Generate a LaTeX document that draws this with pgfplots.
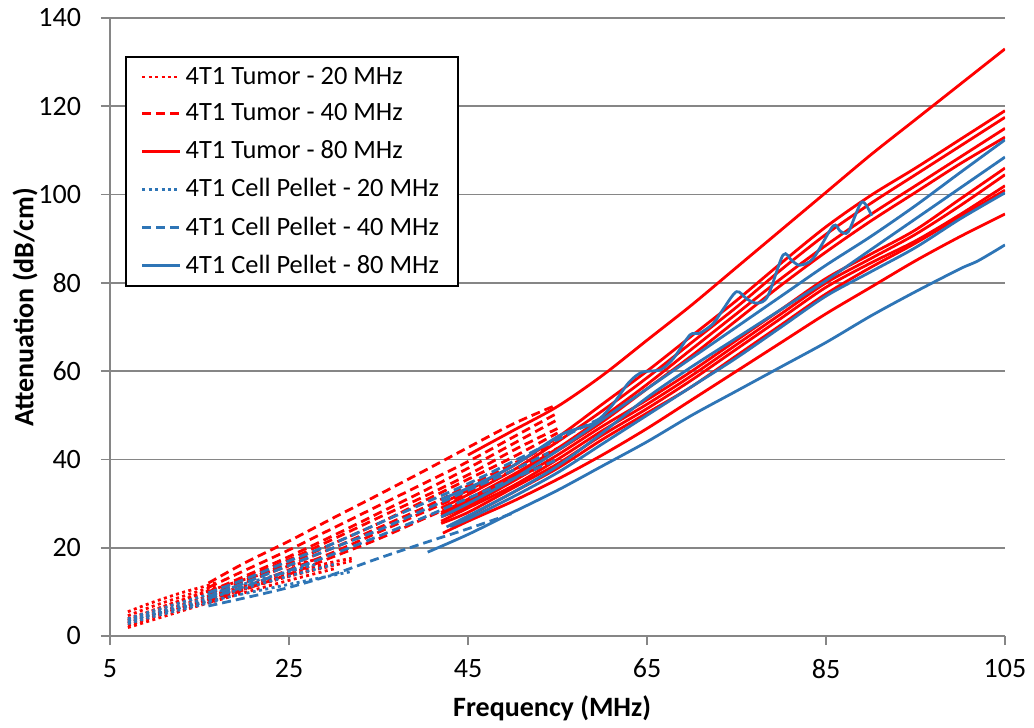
\documentclass[border=0pt]{standalone}
\usepackage{fontspec}
\setmainfont{Carlito}
\usepackage{pgfplots}
\pgfplotsset{compat=1.18}
\definecolor{tumor}{RGB}{255,0,0}
\definecolor{pellet}{RGB}{46,117,182}
\definecolor{gridgray}{RGB}{134,134,134}
\pgfplotsset{
  tdot/.style={tumor, line width=1.4pt, dash pattern=on 1.5pt off 1.7pt},
  tdash/.style={tumor, line width=1.4pt, dash pattern=on 4.5pt off 2.5pt},
  tsol/.style={tumor, line width=1.4pt, solid},
  pdot/.style={pellet, line width=1.4pt, dash pattern=on 1.5pt off 1.7pt},
  pdash/.style={pellet, line width=1.4pt, dash pattern=on 4.5pt off 2.5pt},
  psol/.style={pellet, line width=1.4pt, solid},
}
\begin{document}
\begin{tikzpicture}
\begin{axis}[
  scale only axis, width=447.5pt, height=309pt,
  xmin=5, xmax=105, ymin=0, ymax=140,
  xtick={5,25,45,65,85,105}, ytick={0,20,...,140},
  axis x line*=bottom, axis y line*=left,
  axis line style={gridgray, line width=0.8pt, -},
  tick style={gridgray, line width=0.8pt},
  tick align=outside, major tick length=4.5pt,
  ymajorgrids, grid style={gridgray, line width=0.8pt},
  tick label style={font=\fontsize{14}{16}\selectfont},
  yticklabel style={xshift=-6.5pt},
  xticklabel style={yshift=-3.5pt},
  /pgf/number format/assume math mode=true,
  xlabel={Frequency (MHz)}, ylabel={Attenuation (dB/cm)},
  label style={font=\fontsize{14}{16}\selectfont\bfseries},
  xlabel style={at={(axis description cs:0.494,0)}, yshift=-36pt, anchor=center},
  ylabel style={at={(axis description cs:0,0.532)}, yshift=42.5pt, anchor=center},
  legend style={at={(rel axis cs:0.0168,0.9385)}, anchor=north west, draw=black, line width=0.9pt,
    font=\fontsize{13.2}{16}\selectfont, inner xsep=7.5pt, inner ysep=3pt, row sep=4.4pt},
  legend cell align=left,
  legend image code/.code={\draw[#1] (0pt,0pt) -- (19pt,0pt);},
]
\addlegendimage{tdot}\addlegendentry{4T1 Tumor - 20 MHz}
\addlegendimage{tdash}\addlegendentry{4T1 Tumor - 40 MHz}
\addlegendimage{tsol}\addlegendentry{4T1 Tumor - 80 MHz}
\addlegendimage{pdot}\addlegendentry{4T1 Cell Pellet - 20 MHz}
\addlegendimage{pdash}\addlegendentry{4T1 Cell Pellet - 40 MHz}
\addlegendimage{psol}\addlegendentry{4T1 Cell Pellet - 80 MHz}

% Tumor 20 MHz
\addplot[tdot, smooth, forget plot] coordinates {(7,5.5)(10,7.8)(13,9.8)(16,11.5)(17,12.2)};
\addplot[tdot, smooth, forget plot] coordinates {(7,4.6)(10,6.9)(13,8.9)(16,10.8)(17,11.4)};
\addplot[tdot, smooth, forget plot] coordinates {(7,3.9)(10,6.0)(13,8.1)(16,10.1)(17,10.7)};
\addplot[tdot, smooth, forget plot] coordinates {(7,3.1)(10,5.2)(15,8.4)(20,11.4)(25,14.3)(30,16.8)(32,17.6)};
\addplot[tdot, smooth, forget plot] coordinates {(7,2.4)(10,4.4)(15,7.6)(20,10.6)(25,13.5)(30,16.0)(32,17.0)};
\addplot[tdot, smooth, forget plot] coordinates {(7,1.9)(10,3.8)(15,6.9)(20,9.8)(25,12.6)(30,15.2)};
\addplot[tdot, smooth, forget plot] coordinates {(7,3.5)(10,5.9)(15,9.5)(20,12.8)(25,15.8)(28,17.3)};
\addplot[tdot, smooth, forget plot] coordinates {(7,2.8)(10,4.9)(15,8.0)(20,11.0)(25,13.9)(30,16.3)};

% Tumor 40 MHz
\addplot[tdash, smooth, forget plot] coordinates {(16,12)(20,16.5)(25,21.5)(30,26.8)(35,32)(40,37.3)(45,42.7)(50,48)(54.5,52)};
\addplot[tdash, smooth, forget plot] coordinates {(16,11)(20,14.8)(25,19.5)(30,24.5)(35,29.5)(40,34.5)(45,39.5)(50,45)(55,50.5)};
\addplot[tdash, smooth, forget plot] coordinates {(16,10)(20,13.5)(25,18)(30,22.8)(35,27.8)(40,32.8)(45,38)(50,43.5)(55,49)};
\addplot[tdash, smooth, forget plot] coordinates {(16,9.5)(20,13)(25,17.3)(30,22)(35,26.8)(40,31.5)(45,36.5)(50,42)(55,47)};
\addplot[tdash, smooth, forget plot] coordinates {(16,9)(20,12.5)(25,16.5)(30,21)(35,25.5)(40,30.5)(45,35.5)(50,40.5)(55,46)};
\addplot[tdash, smooth, forget plot] coordinates {(16,8.5)(20,12)(25,16)(30,20)(35,24.5)(40,29)(45,34)(50,39)(55,44)};
\addplot[tdash, smooth, forget plot] coordinates {(16,8)(20,11)(25,15)(30,19)(35,23.5)(40,28)(45,32.5)(50,37.5)(55,42.5)};
\addplot[tdash, smooth, forget plot] coordinates {(16,7.5)(20,10.5)(25,14)(30,18)(35,22)(40,26.5)(45,31)(50,35.5)(55,40)};

% Tumor 80 MHz
\addplot[tsol, smooth, forget plot] coordinates {(45,41)(50,46.5)(55,52)(60,59)(65,67)(70,75)(75,83.5)(80,92)(85,100.5)(90,109)(95,117)(100,125)(105,133)};
\addplot[tsol, smooth, forget plot] coordinates {(42,30)(45,33)(50,38.5)(55,45)(60,52.5)(65,60)(70,68)(75,76)(80,84.5)(85,92.7)(90,99.8)(95,106)(100,112.5)(105,119)};
\addplot[tsol, smooth, forget plot] coordinates {(42,29)(45,32)(50,37.5)(55,44)(60,51)(65,58.5)(70,66.5)(75,74.5)(80,83)(85,91)(90,98)(95,104.5)(100,111)(105,117.5)};
\addplot[tsol, smooth, forget plot] coordinates {(42,28)(45,31)(50,36.5)(55,42.5)(60,49.5)(65,57)(70,65)(75,73)(80,81)(85,88.5)(90,95.5)(95,102)(100,108.5)(105,115)};
\addplot[tsol, smooth, forget plot] coordinates {(42,27.5)(45,30.5)(50,36)(55,42)(60,48.5)(65,56)(70,63.5)(75,71.5)(80,79.5)(85,87)(90,94)(95,100.5)(100,107)(105,113)};
\addplot[tsol, smooth, forget plot] coordinates {(42,27)(45,29.5)(50,35)(55,41)(60,47.5)(65,53.5)(70,60)(75,67)(80,74)(85,81)(90,86.5)(95,92)(100,99)(105,106)};
\addplot[tsol, smooth, forget plot] coordinates {(42,26)(45,29)(50,34)(55,40)(60,46.5)(65,52.5)(70,59)(75,66)(80,73)(85,80)(90,85.5)(95,91)(100,97.5)(105,104.5)};
\addplot[tsol, smooth, forget plot] coordinates {(42,25.5)(45,28)(50,33.5)(55,39)(60,45.5)(65,51.5)(70,58)(75,65)(80,72)(85,79)(90,84.5)(95,89.5)(100,95.5)(105,102)};
\addplot[tsol, smooth, forget plot] coordinates {(43.2,24.7)(45,27)(50,32.5)(55,38)(60,44.5)(65,50.5)(70,56.5)(75,63.5)(80,70.5)(85,77.5)(90,83.5)(95,89)(100,95)(105,101)};
\addplot[tsol, smooth, forget plot] coordinates {(42.2,23.3)(45,26)(50,30.5)(55,35.5)(60,41)(65,47)(70,53.5)(75,60)(80,66.5)(85,73)(90,79)(95,85)(100,90.5)(105,95.6)};

% Cell pellet 20 MHz
\addplot[pdot, smooth, forget plot] coordinates {(7,3.6)(10,5.0)(15,7.4)(20,9.6)(25,11.7)(30,13.8)(32,14.6)};
\addplot[pdot, smooth, forget plot] coordinates {(7,3.2)(10,5.2)(15,8.0)(20,10.8)(25,13.6)(30,16.2)};
\addplot[pdot, smooth, forget plot] coordinates {(7,3.9)(10,5.8)(15,8.8)(20,11.8)(25,14.6)(28,16.2)};
\addplot[pdot, smooth, forget plot] coordinates {(7,2.8)(10,4.5)(15,7.0)(17,8.0)};

% Cell pellet 40 MHz
\addplot[pdash, smooth, forget plot] coordinates {(16,6.8)(20,8.6)(25,11.0)(30,14.0)(35,17.6)(40,21.0)(45,24.3)(50,27.8)};
\addplot[pdash, smooth, forget plot] coordinates {(16,9.8)(20,12.8)(25,17.0)(30,21.0)(35,25.5)(40,30.0)(45,34.5)(50,39.5)(55,44.5)(60,49.5)};
\addplot[pdash, smooth, forget plot] coordinates {(16,9.0)(20,12.0)(25,16.0)(30,20.0)(35,24.0)(40,28.5)(45,33.0)(50,37.5)(54,41.5)};
\addplot[pdash, smooth, forget plot] coordinates {(16,8.5)(20,11.2)(25,14.8)(30,18.6)(35,22.6)(40,26.8)(45,31.2)(50,35.6)(55,40.0)};

% Cell pellet 80 MHz
\addplot[psol, smooth, forget plot] coordinates {(40.5,19)(45,23)(50,28)(55,33)(60,38.5)(65,44)(70,50)(75,55.5)(80,61)(85,66.5)(90,72.5)(95,78)(100,83.2)(102,85)(105,88.6)};
\addplot[psol, smooth, forget plot] coordinates {(42,27)(45,30)(50,35.5)(55,42)(60,49)(65,56)(70,63)(75,70)(80,77)(85,84)(90,90.5)(95,97.5)(100,105)(105,112.4)};
\addplot[psol, smooth, forget plot] coordinates {(42.6,24.7)(45,27.2)(50,32.5)(55,38.5)(60,46)(65,54)(70,61)(75,67.5)(80,74)(85,80.5)(90,87.5)(95,94.5)(100,101.5)(105,108.5)};
\addplot[psol, smooth, forget plot] coordinates {(43,24.8)(45,26.5)(50,31.5)(55,37)(60,43.5)(65,50)(70,56.5)(75,63)(80,70)(85,77)(90,82.5)(95,88)(100,94.5)(105,100.4)};
\addplot[psol, smooth, forget plot] coordinates {(42,31)(45,33.5)(50,38.5)(55.3,45.5)(59,48.2)(61,52)(63,57.5)(64.5,59.8)(66.5,60.3)(68,63)(69.8,68.2)(70.9,68.6)(72.4,70.8)(73.5,74)(75,78)(76.2,76.3)(77.3,75.4)(78.5,77)(80.2,86.3)(81.2,85)(82.1,84)(83.6,85.6)(85.8,92.9)(86.6,91.7)(87.5,91.6)(89,98.3)(90.1,95.2)};
\end{axis}
\pgfresetboundingbox
\path ([xshift=-55pt,yshift=-46pt]current axis.south west) rectangle ([xshift=14.5pt,yshift=9pt]current axis.north east);
\end{tikzpicture}
\end{document}
